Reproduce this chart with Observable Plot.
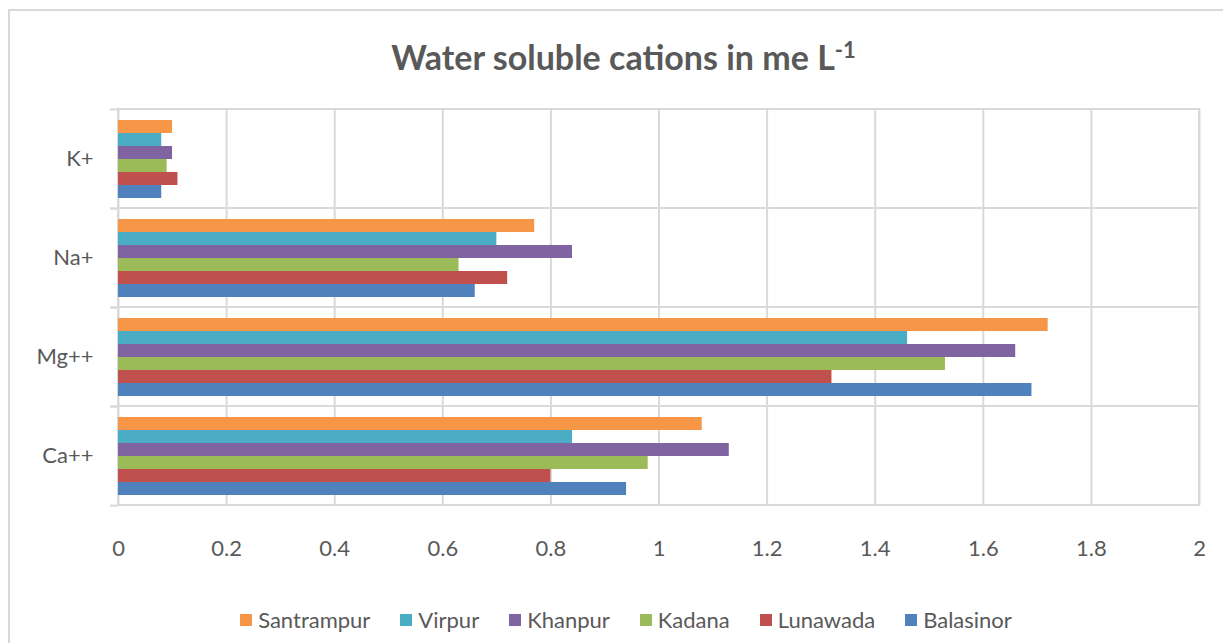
<!DOCTYPE html>
<html>
<head>
<meta charset="utf-8">
<script src="https://cdn.jsdelivr.net/npm/d3@7"></script>
<script src="https://cdn.jsdelivr.net/npm/@observablehq/plot@0.6"></script>
<style>
  body { margin: 0; background: #fff; font-family: Lato, sans-serif; color: #595959; }
  #wrap { position: relative; width: 1223px; height: 643px; overflow: hidden; background: #fff; }
  #border { position: absolute; left: 8px; top: 9px; width: 1400px; height: 800px;
            border-left: 2px solid #d9d9d9; border-top: 2px solid #d9d9d9; pointer-events: none; }
  #title { position: relative; height: 90px; box-sizing: border-box; padding-top: 38px; padding-left: 24px;
           text-align: center; font-weight: bold; font-size: 34px; line-height: 38px; white-space: nowrap; }
  #title sup { font-size: 22px; line-height: 0; vertical-align: 0.55em; }
  #chart { position: relative; height: 480px; }
  #chart svg { display: block; }
  #legend { position: relative; height: 73px; box-sizing: border-box; padding-top: 26px; padding-left: 29px;
            display: flex; justify-content: center; align-items: center; font-size: 22px; line-height: 24px; }
  .item { display: flex; align-items: center; margin: 0 15px; }
  .sw { width: 12px; height: 12px; margin-right: 6px; }
</style>
</head>
<body>
<div id="wrap">
  <div id="border"></div>
  <div id="title">Water soluble cations in me L<sup>-1</sup></div>
  <div id="chart"></div>
  <div id="legend"></div>
</div>
<script>
// Categories (top to bottom) and series (top to bottom inside each group)
const cations = ["K+", "Na+", "Mg++", "Ca++"];
const sites = ["Santrampur", "Virpur", "Khanpur", "Kadana", "Lunawada", "Balasinor"];
const colors = ["#F79646", "#4BACC6", "#8064A2", "#9BBB59", "#C0504D", "#4F81BD"];

// Values in cation order: K+, Na+, Mg++, Ca++
const santrampur = [0.10, 0.77, 1.72, 1.08];
const virpur     = [0.08, 0.70, 1.46, 0.84];
const khanpur    = [0.10, 0.84, 1.66, 1.13];
const kadana     = [0.09, 0.63, 1.53, 0.98];
const lunawada   = [0.11, 0.72, 1.32, 0.80];
const balasinor  = [0.08, 0.66, 1.69, 0.94];

const xTicks = [0, 0.2, 0.4, 0.6, 0.8, 1, 1.2, 1.4, 1.6, 1.8, 2];

const series = [santrampur, virpur, khanpur, kadana, lunawada, balasinor];
const data = sites.flatMap((s, i) => cations.map((c, j) => ({site: s, cation: c, value: series[i][j]})));

const grid = "#d9d9d9";

const chart = Plot.plot({
  width: 1223,
  height: 480,
  marginLeft: 118,
  marginRight: 24,
  marginTop: 18,
  marginBottom: 65,
  style: {fontFamily: "Lato, sans-serif", fontSize: "22px", color: "#595959", background: "transparent", overflow: "visible"},
  x: {domain: [0, 2], ticks: xTicks, tickSize: 0, tickPadding: 35, label: null, tickFormat: d => String(d)},
  y: {domain: sites, paddingInner: 0, paddingOuter: 0.72, axis: null},
  fy: {domain: cations, padding: 0, label: null},
  color: {domain: sites, range: colors},
  marks: [
    Plot.ruleX(xTicks, {stroke: grid, strokeWidth: 2}),
    Plot.rect(cations, {fy: d => d, x1: 0, x2: 2, stroke: grid, strokeWidth: 2, fill: "none"}),
    Plot.axisFy({anchor: "left", tickSize: 8, tickFormat: () => "", dy: -49.6, stroke: grid, strokeWidth: 2, label: null}),
    Plot.axisFy({anchor: "left", tickSize: 8, tickFormat: () => "", dy: 49.6, stroke: grid, strokeWidth: 2, label: null}),
    Plot.axisFy({anchor: "left", tickSize: 0, tickPadding: 25, label: null}),
    Plot.barX(data, {x: "value", y: "site", fy: "cation", fill: "site"})
  ]
});
document.getElementById("chart").appendChild(chart);

const legend = document.getElementById("legend");
sites.forEach((s, i) => {
  const item = document.createElement("div");
  item.className = "item";
  const sw = document.createElement("span");
  sw.className = "sw";
  sw.style.background = colors[i];
  const t = document.createElement("span");
  t.textContent = s;
  item.appendChild(sw);
  item.appendChild(t);
  legend.appendChild(item);
});
</script>
</body>
</html>
